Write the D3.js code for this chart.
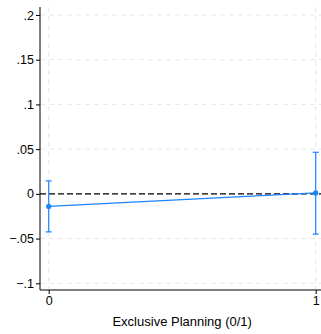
<!DOCTYPE html>
<html>
<head>
<meta charset="utf-8">
<script src="https://cdn.jsdelivr.net/npm/d3@7"></script>
<style>
  body { margin: 0; background: #fff; }
  svg { display: block; font-family: "Liberation Sans", Arial, sans-serif; }
</style>
</head>
<body>
<svg id="chart" width="321" height="334"></svg>
<script>
// data
const categories = [0, 1];
const estimates = [-0.014, 0.001];
const ciLow = [-0.0425, -0.045];
const ciHigh = [0.0145, 0.0465];
const yTicks = [-0.1, -0.05, 0, 0.05, 0.1, 0.15, 0.2];
const xLabel = "Exclusive Planning (0/1)";

const width = 321, height = 334;
const plot = { left: 40, right: 321, top: 7, bottom: 290 };
const blue = "#1a85ff";

const svg = d3.select("#chart");

const x = d3.scaleLinear().domain([0, 1]).range([48.7, 315.7]);
const y = d3.scaleLinear().domain([-0.1, 0.2]).range([283.3, 15]);

const fmt = v => {
  if (v === 0) return "0";
  let s = String(+v.toFixed(2)).replace("0.", ".");
  return s.replace("-", "\u2212");
};

// gridlines
svg.append("g").selectAll("line")
  .data(yTicks.filter(d => d !== 0))
  .enter().append("line")
  .attr("x1", plot.left).attr("x2", plot.right)
  .attr("y1", d => y(d)).attr("y2", d => y(d))
  .attr("stroke", "#e8e8e8").attr("stroke-width", 1)
  .attr("stroke-dasharray", "5,4");

svg.append("g").selectAll("line")
  .data(categories)
  .enter().append("line")
  .attr("x1", d => x(d)).attr("x2", d => x(d))
  .attr("y1", plot.top).attr("y2", plot.bottom)
  .attr("stroke", "#e8e8e8").attr("stroke-width", 1)
  .attr("stroke-dasharray", "5,4");

// zero reference line
svg.append("line")
  .attr("x1", plot.left).attr("x2", plot.right)
  .attr("y1", y(0)).attr("y2", y(0))
  .attr("stroke", "#000").attr("stroke-width", 1.2)
  .attr("stroke-dasharray", "6,3");

// y axis
const yAxis = svg.append("g")
  .attr("transform", `translate(${plot.left},0)`)
  .call(d3.axisLeft(y).tickValues(yTicks).tickFormat(fmt).tickSizeOuter(0).tickSize(4).tickPadding(2));
yAxis.select(".domain").attr("d", `M0,${plot.top}V${plot.bottom}`).attr("stroke", "#000");
yAxis.selectAll("text").attr("font-size", 12.5).attr("fill", "#000").attr("font-family", "Liberation Sans, Arial, sans-serif");

// x axis
const xAxis = svg.append("g")
  .attr("transform", `translate(0,${plot.bottom})`)
  .call(d3.axisBottom(x).tickValues(categories).tickFormat(d3.format("d")).tickSizeOuter(0).tickSize(4).tickPadding(2));
xAxis.select(".domain").attr("d", `M${plot.left},0H${plot.right}`).attr("stroke", "#000");
xAxis.selectAll("text").attr("font-size", 12.5).attr("fill", "#000").attr("font-family", "Liberation Sans, Arial, sans-serif");

svg.append("text")
  .attr("x", (x(0) + x(1)) / 2)
  .attr("y", 326)
  .attr("text-anchor", "middle")
  .attr("font-size", 13)
  .text(xLabel);

// connecting line
const line = d3.line().x((d, i) => x(categories[i])).y(d => y(d));
svg.append("path")
  .datum(estimates)
  .attr("d", line)
  .attr("fill", "none")
  .attr("stroke", blue)
  .attr("stroke-width", 1.2);

// error bars
const bars = svg.append("g").selectAll("g")
  .data(categories)
  .enter().append("g");

bars.append("line")
  .attr("x1", d => x(d)).attr("x2", d => x(d))
  .attr("y1", (d, i) => y(ciLow[i])).attr("y2", (d, i) => y(ciHigh[i]))
  .attr("stroke", blue).attr("stroke-width", 1.2);

bars.append("line")
  .attr("x1", d => x(d) - 3).attr("x2", d => x(d) + 3)
  .attr("y1", (d, i) => y(ciLow[i])).attr("y2", (d, i) => y(ciLow[i]))
  .attr("stroke", blue).attr("stroke-width", 1.2);

bars.append("line")
  .attr("x1", d => x(d) - 3).attr("x2", d => x(d) + 3)
  .attr("y1", (d, i) => y(ciHigh[i])).attr("y2", (d, i) => y(ciHigh[i]))
  .attr("stroke", blue).attr("stroke-width", 1.2);

bars.append("circle")
  .attr("cx", d => x(d))
  .attr("cy", (d, i) => y(estimates[i]))
  .attr("r", 2.6)
  .attr("fill", blue);
</script>
</body>
</html>
